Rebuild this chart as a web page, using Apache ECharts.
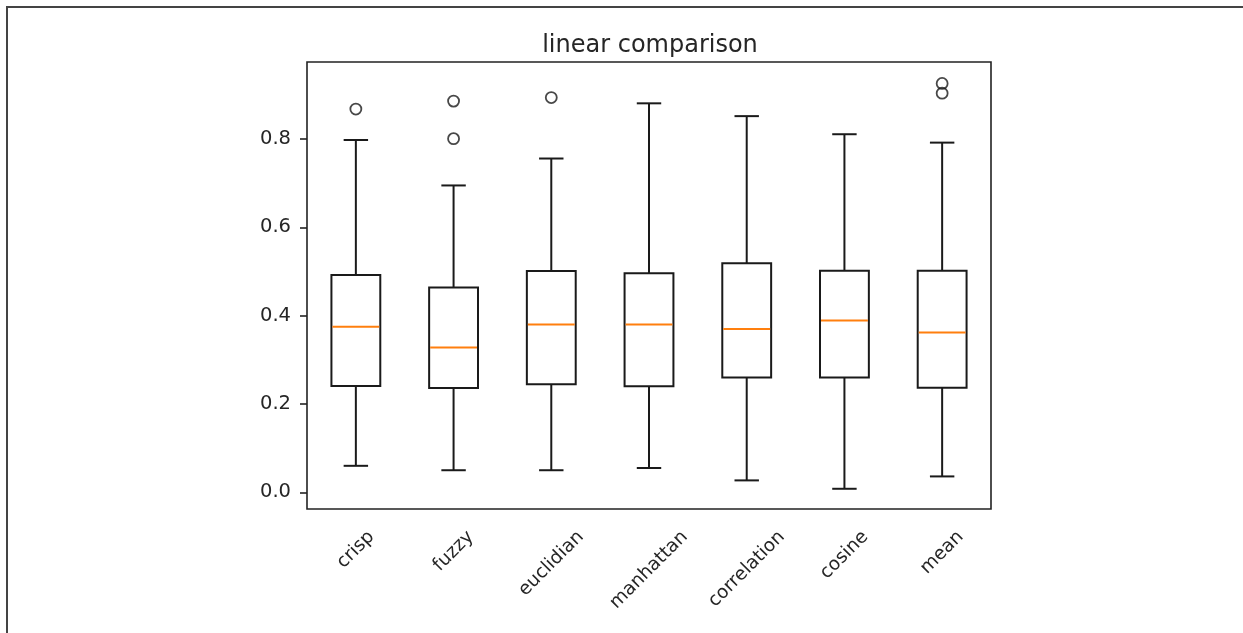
<!DOCTYPE html>
<html>
<head>
<meta charset="utf-8">
<title>linear comparison</title>
<script src="https://cdn.jsdelivr.net/npm/echarts@6/dist/echarts.min.js"></script>
<style>
  html, body { margin: 0; padding: 0; background: #fff; }
  #main { width: 1243px; height: 633px; }
  #frame { position: absolute; left: 6px; top: 6px; right: 0; bottom: 0;
           border-left: 2px solid #444; border-top: 2px solid #444; pointer-events: none; }
</style>
</head>
<body>
<div id="main"></div>
<div id="frame"></div>
<script>
// values
const categories = ['crisp', 'fuzzy', 'euclidian', 'manhattan', 'correlation', 'cosine', 'mean'];
const lowWhisker = [0.060, 0.050, 0.050, 0.055, 0.027, 0.008, 0.036];
const q1 = [0.241, 0.236, 0.245, 0.240, 0.260, 0.260, 0.237];
const medians = [0.375, 0.328, 0.380, 0.380, 0.370, 0.389, 0.362];
const q3 = [0.492, 0.464, 0.501, 0.496, 0.519, 0.502, 0.502];
const highWhisker = [0.798, 0.695, 0.756, 0.881, 0.852, 0.811, 0.792];
// [category index, value]
const outliers = [[0, 0.868], [1, 0.886], [1, 0.801], [2, 0.894], [6, 0.926], [6, 0.904]];
const yTicks = [0, 0.2, 0.4, 0.6, 0.8];

const boxData = categories.map((c, i) => [i, lowWhisker[i], q1[i], medians[i], q3[i], highWhisker[i]]);

const labelFont = 19.5;
const catFont = 18.5;

// matplotlib style box: caps are half the box width, median in orange
function renderBox(params, api) {
  const i = api.value(0);
  const low = api.coord([i, api.value(1)]);
  const b1 = api.coord([i, api.value(2)]);
  const med = api.coord([i, api.value(3)]);
  const b3 = api.coord([i, api.value(4)]);
  const high = api.coord([i, api.value(5)]);
  const band = api.size([1, 0])[0];
  const half = band * 0.25;
  const cap = band * 0.125;
  const x = low[0];
  const ln = { stroke: '#1a1a1a', lineWidth: 2 };
  return {
    type: 'group',
    children: [
      { type: 'line', shape: { x1: x, y1: b1[1], x2: x, y2: low[1] }, style: ln },
      { type: 'line', shape: { x1: x, y1: b3[1], x2: x, y2: high[1] }, style: ln },
      { type: 'line', shape: { x1: x - cap, y1: low[1], x2: x + cap, y2: low[1] }, style: ln },
      { type: 'line', shape: { x1: x - cap, y1: high[1], x2: x + cap, y2: high[1] }, style: ln },
      { type: 'rect', shape: { x: x - half, y: b3[1], width: half * 2, height: b1[1] - b3[1] },
        style: { fill: 'none', stroke: '#1a1a1a', lineWidth: 2 } },
      { type: 'line', shape: { x1: x - half + 1, y1: med[1], x2: x + half - 1, y2: med[1] },
        style: { stroke: '#ff7f0e', lineWidth: 2 } }
    ]
  };
}

// rotated labels: shift each one so its bounding box hangs centred under the tick
const ctx = document.createElement('canvas').getContext('2d');
ctx.font = catFont + 'px "DejaVu Sans"';
const rich = {};
categories.forEach((c, i) => {
  const p = ctx.measureText(c).width / 2;
  rich['c' + i] = { padding: [p, p, 0, 0], fontSize: catFont, fontFamily: 'DejaVu Sans', color: '#262626' };
});

let myChart = echarts.init(document.getElementById('main'));
let option = {
  animation: false,
  title: {
    text: 'linear comparison',
    left: 645,
    top: 29,
    textAlign: 'center',
    textStyle: { fontFamily: 'DejaVu Sans', fontSize: 24, fontWeight: 'normal', color: '#262626' }
  },
  grid: {
    left: 307, right: 252, top: 62, bottom: 124,
    show: true, borderColor: '#222', borderWidth: 1.6, backgroundColor: 'transparent'
  },
  xAxis: {
    type: 'category',
    data: categories,
    boundaryGap: true,
    axisLine: { show: false },
    axisTick: { alignWithLabel: true, length: 7, lineStyle: { color: '#222', width: 1.6 } },
    axisLabel: {
      interval: 0,
      rotate: 45,
      align: 'center',
      verticalAlign: 'middle',
      margin: 25,
      formatter: (v, i) => '{c' + i + '|' + v + '}',
      rich: rich
    },
    splitLine: { show: false }
  },
  yAxis: {
    type: 'value',
    min: -0.0378,
    max: 0.9746,
    axisLine: { show: false },
    axisTick: { show: true, customValues: yTicks, length: 7, lineStyle: { color: '#222', width: 1.6 } },
    axisLabel: {
      customValues: yTicks,
      margin: 16,
      fontFamily: 'DejaVu Sans',
      fontSize: labelFont,
      color: '#262626',
      formatter: v => v.toFixed(1)
    },
    splitLine: { show: false }
  },
  series: [
    {
      type: 'custom',
      renderItem: renderBox,
      encode: { x: 0, y: [1, 2, 3, 4, 5] },
      data: boxData
    },
    {
      type: 'scatter',
      symbol: 'circle',
      symbolSize: 11,
      itemStyle: { color: 'rgba(0,0,0,0)', borderColor: '#1a1a1a', borderWidth: 1.8 },
      data: outliers
    }
  ]
};
myChart.setOption(option);
</script>
</body>
</html>
